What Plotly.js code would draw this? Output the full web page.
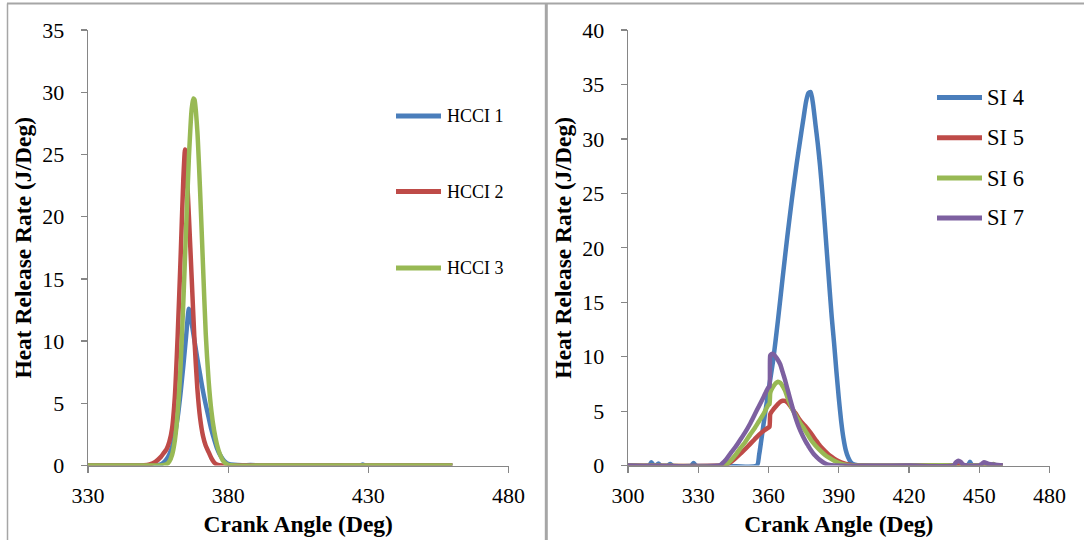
<!DOCTYPE html>
<html>
<head>
<meta charset="utf-8">
<script src="https://cdn.plot.ly/plotly-3.0.1.min.js"></script>
<style>html,body{margin:0;padding:0;background:#fff;}#chart{width:1084px;height:540px;}</style>
</head>
<body>
<div id="chart"></div>
<script>
// ---------- Data ----------
const hcciNames = ['HCCI 1', 'HCCI 2', 'HCCI 3'];
const siNames = ['SI 4', 'SI 5', 'SI 6', 'SI 7'];

const hcci1X = [330, 340, 350, 354, 356, 357, 358, 359, 360, 361, 362, 363, 364, 365, 366, 367, 368, 369, 370, 371, 372, 373, 374, 375, 376, 377, 378, 379, 380, 382, 385, 388, 392, 400, 410, 420, 427, 428, 429, 440, 450, 460];
const hcci1Y = [0, 0, 0, 0.02, 0.1, 0.25, 0.5, 0.9, 1.5, 2.5, 3.9, 5.8, 8.0, 10.4, 12.6, 11.4, 10.0, 8.6, 7.3, 6.0, 4.9, 3.9, 2.9, 2.1, 1.4, 0.9, 0.55, 0.3, 0.15, 0.06, 0.03, 0.04, 0.01, 0, 0, 0, 0, 0.08, 0, 0, 0, 0];

const hcci2X = [330, 340, 348, 350, 352, 354, 356, 357, 358, 359, 360, 361, 362, 363, 364, 364.6, 365, 366, 367, 368, 369, 370, 371, 372, 373, 374, 375, 376, 378, 380, 400, 420, 440, 460];
const hcci2Y = [0, 0, 0, 0.02, 0.1, 0.3, 0.7, 1.0, 1.3, 1.9, 3.0, 5.6, 10.5, 16.5, 23.0, 25.4, 24.5, 20.0, 15.0, 10.0, 6.2, 3.8, 2.4, 1.6, 1.1, 0.6, 0.25, 0.08, 0, 0, 0, 0, 0, 0];

const hcci3X = [330, 340, 350, 354, 356, 358, 359, 360, 361, 362, 363, 364, 365, 366, 367, 367.6, 368, 369, 370, 371, 372, 373, 374, 375, 376, 377, 378, 379, 380, 382, 390, 400, 420, 440, 460];
const hcci3Y = [0, 0, 0, 0, 0.01, 0.11, 0.33, 0.87, 2.05, 4.3, 7.9, 13.1, 19.1, 24.8, 28.7, 29.5, 29.4, 26.9, 22.0, 16.2, 10.6, 6.9, 4.4, 2.8, 1.7, 0.95, 0.45, 0.18, 0.06, 0, 0, 0, 0, 0, 0];

const si4X = [300, 309, 310, 311, 312, 313, 314, 317, 318, 319, 327, 328, 329, 340, 355, 356, 358, 360, 362, 364, 366, 368, 370, 372, 374, 375, 376, 377, 378, 379, 380, 381, 382, 383, 384, 385, 386, 387, 388, 389, 390, 391, 392, 393, 394, 395, 396, 398, 400, 420, 440, 445, 446, 447, 450, 460];
const si4Y = [0, 0, 0.3, 0, 0, 0.2, 0, 0, 0.15, 0, 0, 0.25, 0, 0, 0, 1.0, 4.0, 6.9, 9.7, 13.3, 17.2, 21.0, 24.5, 27.7, 30.6, 32.0, 33.4, 34.2, 34.3, 33.2, 31.4, 29.6, 27.5, 25.0, 22.2, 19.3, 16.4, 13.6, 11.2, 8.6, 6.2, 4.1, 2.5, 1.4, 0.75, 0.35, 0.15, 0.03, 0, 0, 0, 0, 0.35, 0, 0, 0];

const si5X = [300, 340, 342, 344, 346, 348, 350, 352, 354, 356, 358, 360, 360.4, 360.7, 361, 362, 363, 364, 365, 366, 367, 368, 369, 370, 371, 372, 373, 374, 376, 378, 380, 382, 384, 386, 388, 390, 392, 394, 396, 398, 420, 440, 460];
const si5Y = [0, 0, 0.1, 0.35, 0.7, 1.1, 1.5, 1.95, 2.4, 2.85, 3.2, 3.5, 3.55, 4.7, 4.85, 5.15, 5.4, 5.65, 5.85, 5.95, 5.95, 5.8, 5.55, 5.25, 4.95, 4.65, 4.3, 4.0, 3.55, 3.0, 2.4, 1.8, 1.35, 0.95, 0.65, 0.4, 0.22, 0.1, 0.04, 0, 0, 0, 0];

const si6X = [300, 341, 342, 344, 346, 348, 350, 352, 354, 356, 358, 360, 360.4, 360.7, 361, 362, 363, 364, 365, 366, 367, 368, 369, 370, 371, 372, 373, 374, 375, 376, 377, 378, 379, 380, 382, 384, 386, 388, 390, 392, 394, 396, 420, 439, 441, 443, 450, 455, 456, 457, 460];
const si6Y = [0, 0, 0.1, 0.5, 1.0, 1.6, 2.15, 2.8, 3.4, 4.1, 4.8, 5.6, 5.65, 6.6, 6.85, 7.25, 7.55, 7.7, 7.6, 7.3, 6.9, 6.3, 5.75, 5.25, 4.85, 4.45, 4.1, 3.75, 3.45, 3.1, 2.75, 2.4, 2.1, 1.85, 1.4, 1.0, 0.7, 0.45, 0.25, 0.1, 0.03, 0, 0, 0, -0.2, 0, 0, 0, 0.15, 0, 0];

const si7X = [300, 339, 340, 342, 344, 346, 348, 350, 352, 354, 356, 358, 359, 360, 360.4, 360.7, 361, 362, 363, 364, 365, 366, 367, 368, 369, 370, 371, 372, 373, 374, 375, 376, 377, 378, 379, 380, 381, 382, 384, 386, 388, 420, 439, 440, 441, 442, 443, 445, 450, 451, 452, 454, 460];
const si7Y = [0, 0, 0.15, 0.6, 1.2, 1.75, 2.4, 3.05, 3.8, 4.65, 5.5, 6.35, 6.8, 7.2, 7.25, 10.1, 10.2, 10.25, 10.0, 9.7, 9.3, 8.6, 7.9, 7.1, 6.3, 5.5, 4.75, 4.1, 3.5, 3.0, 2.55, 2.15, 1.8, 1.45, 1.15, 0.9, 0.68, 0.5, 0.22, 0.06, 0, 0, 0, 0.3, 0.45, 0.35, 0.1, 0, 0, 0.15, 0.3, 0.15, 0, 0];

const leftXTicks = [330, 380, 430, 480];
const rightXTicks = [300, 330, 360, 390, 420, 450, 480];

// ---------- Styling ----------
const colors = ['#4A7EBB', '#BE4B48', '#98B954', '#7D60A0'];
const W = 1084, H = 540;
const FONT = 'Liberation Serif, Times New Roman, serif';
const AX = '#868686';
const LW = 4.5;
const px = v => v / W;
const py = v => 1 - v / H;

const hcciX = [hcci1X, hcci2X, hcci3X], hcciY = [hcci1Y, hcci2Y, hcci3Y];
const siX = [si4X, si5X, si6X, si7X], siY = [si4Y, si5Y, si6Y, si7Y];

const traces = [];
hcciNames.forEach((n, i) => traces.push({
  type: 'scatter', mode: 'lines', name: n, x: hcciX[i], y: hcciY[i],
  xaxis: 'x', yaxis: 'y', showlegend: false,
  line: {color: colors[i], width: LW, shape: 'spline', smoothing: 0.6}
}));
siNames.forEach((n, i) => traces.push({
  type: 'scatter', mode: 'lines', name: n, x: siX[i], y: siY[i],
  xaxis: 'x2', yaxis: 'y2', showlegend: false,
  line: {color: colors[i], width: LW, shape: 'spline', smoothing: 0.6}
}));

const tickFont = {family: FONT, size: 22, color: '#000'};
const titleFont = {family: FONT, size: 23.5, color: '#000', weight: 'bold'};

function xAxis(domain, range, ticks, anchor) {
  return {
    domain: domain, range: range, tickvals: ticks, ticktext: ticks.map(String),
    showgrid: false, zeroline: false, showline: true, linecolor: AX, linewidth: 1.3,
    ticks: 'outside', ticklen: 6, tickcolor: AX, tickwidth: 1.3,
    tickfont: tickFont, ticklabelstandoff: 4, anchor: anchor, layer: 'below traces',
    title: {text: 'Crank Angle (Deg)', font: titleFont, standoff: 8},
    fixedrange: true
  };
}
function yAxis(domain, range, anchor) {
  return {
    domain: domain, range: range, dtick: 5, tick0: 0,
    showgrid: false, zeroline: false, showline: true, linecolor: AX, linewidth: 1.3,
    ticks: 'outside', ticklen: 6, tickcolor: AX, tickwidth: 1.3,
    tickfont: tickFont, ticklabelstandoff: 12, anchor: anchor, layer: 'below traces',
    title: {text: 'Heat Release Rate (J/Deg)', font: titleFont, standoff: 4},
    fixedrange: true
  };
}

const yDom = [py(465.6), py(30)];
const layout = {
  width: W, height: H,
  margin: {l: 0, r: 0, t: 0, b: 0},
  paper_bgcolor: '#fff', plot_bgcolor: 'rgba(0,0,0,0)',
  showlegend: false,
  font: {family: FONT},
  xaxis: xAxis([px(88), px(508.5)], [330, 480], leftXTicks, 'y'),
  yaxis: yAxis(yDom, [0, 35], 'x'),
  xaxis2: xAxis([px(628), px(1049.6)], [300, 480], rightXTicks, 'y2'),
  yaxis2: yAxis(yDom, [0, 40], 'x2'),
  shapes: [],
  annotations: []
};

// frame lines
const FR = '#a6a6a6';
layout.shapes.push(
  {type: 'line', xref: 'paper', yref: 'paper', x0: px(7.5), x1: px(7.5), y0: py(3.5), y1: -0.05, line: {color: FR, width: 1.5}},
  {type: 'line', xref: 'paper', yref: 'paper', x0: px(7), x1: 1.01, y0: py(3.5), y1: py(3.5), line: {color: FR, width: 1.8}},
  {type: 'line', xref: 'paper', yref: 'paper', x0: px(546.3), x1: px(546.3), y0: py(3.5), y1: -0.05, line: {color: FR, width: 3}}
);

// manual legends
const leftLegY = [116, 191.5, 268];
hcciNames.forEach((n, i) => {
  layout.shapes.push({type: 'line', xref: 'paper', yref: 'paper', x0: px(396), x1: px(441), y0: py(leftLegY[i]), y1: py(leftLegY[i]), line: {color: colors[i], width: 5}});
  layout.annotations.push({xref: 'paper', yref: 'paper', x: px(445), y: py(leftLegY[i]), xanchor: 'left', yanchor: 'middle', showarrow: false, text: n, font: {family: FONT, size: 18, color: '#000'}});
});
const rightLegY = [97.5, 137.7, 178, 218];
siNames.forEach((n, i) => {
  layout.shapes.push({type: 'line', xref: 'paper', yref: 'paper', x0: px(937), x1: px(982), y0: py(rightLegY[i]), y1: py(rightLegY[i]), line: {color: colors[i], width: 5}});
  layout.annotations.push({xref: 'paper', yref: 'paper', x: px(985), y: py(rightLegY[i]), xanchor: 'left', yanchor: 'middle', showarrow: false, text: n, font: {family: FONT, size: 22.5, color: '#000'}});
});

Plotly.newPlot('chart', traces, layout, {staticPlot: true, displayModeBar: false});
</script>
</body>
</html>
